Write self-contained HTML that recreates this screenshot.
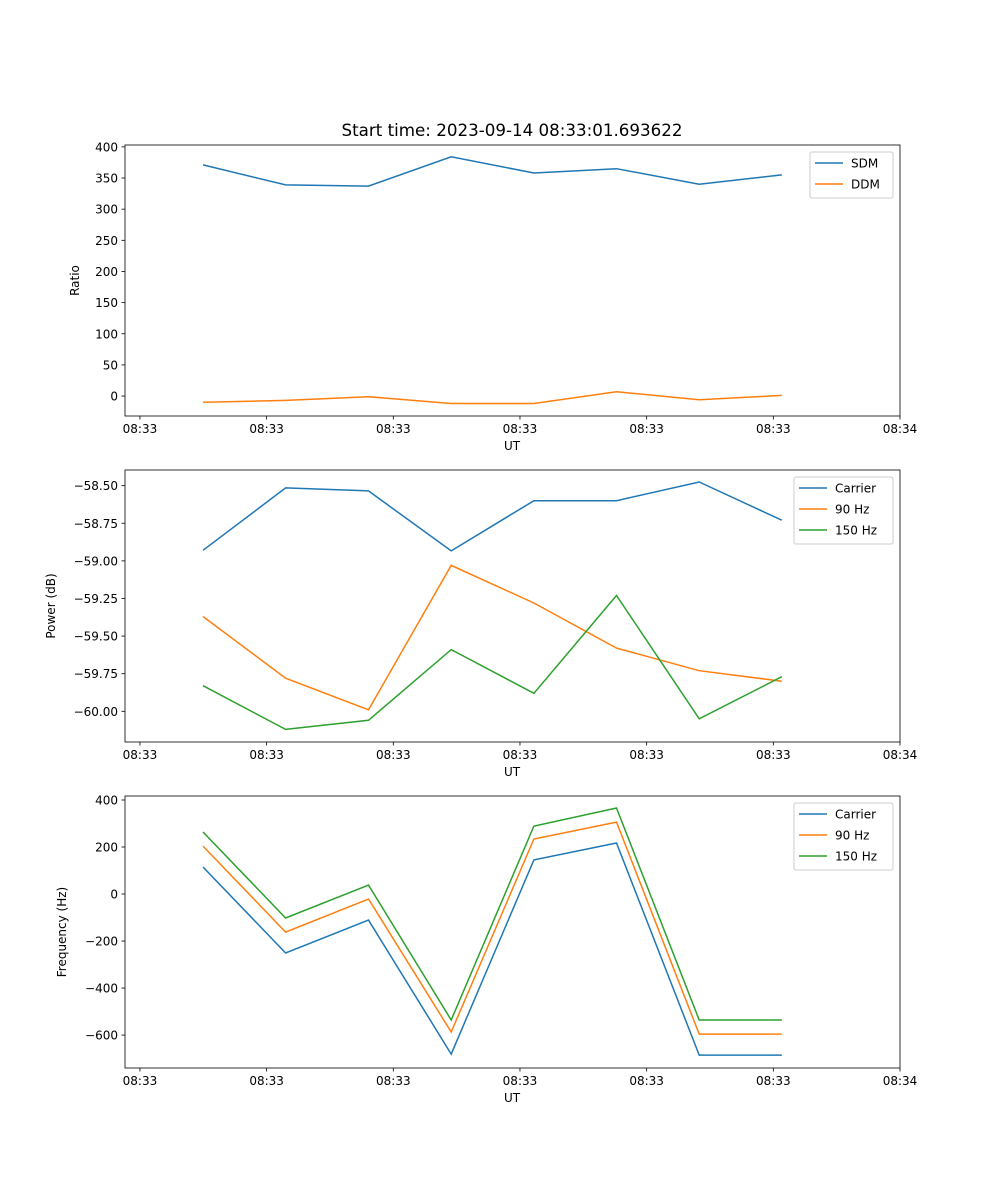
<!DOCTYPE html>
<html><head><meta charset="utf-8"><style>body{margin:0;background:#fff}svg{display:block;font-family:"DejaVu Sans","Liberation Sans",sans-serif}</style></head>
<body>
<svg id="fig" width="1000" height="1200"></svg>
<script>
const times=[4.98,11.5,18.04,24.57,31.1,37.62,44.15,50.67];
const xTickVals=[0,10,20,30,40,50,60];
const xTickLabels=["08:33","08:33","08:33","08:33","08:33","08:33","08:34"];
const sdm=[371,339,337,384,358,365,340,355];
const ddm=[-10,-7,-1,-12,-12,7,-6,1];
const pCarrier=[-58.93,-58.515,-58.535,-58.934,-58.60,-58.60,-58.476,-58.73];
const p90=[-59.37,-59.78,-59.99,-59.03,-59.28,-59.58,-59.73,-59.80];
const p150=[-59.83,-60.12,-60.06,-59.59,-59.88,-59.23,-60.05,-59.77];
const fCarrier=[115,-251,-111,-681,145,217,-685,-685];
const f90=[204,-162,-21,-587,234,306,-596,-596];
const f150=[264,-102,38,-536,289,366,-536,-536];
const ratioTicks=[0,50,100,150,200,250,300,350,400];
const powerTicks=[-60.0,-59.75,-59.5,-59.25,-59.0,-58.75,-58.5];
const freqTicks=[-600,-400,-200,0,200,400];
const C1="#1f77b4",C2="#ff7f0e",C3="#2ca02c";
const svg=document.getElementById('fig');
const NS="http://www.w3.org/2000/svg";
function mk(t,a,p){const e=document.createElementNS(NS,t);for(const k in a)e.setAttribute(k,a[k]);(p||svg).appendChild(e);return e;}
const X0=125,X1=900,tMin=-1.18,tMax=60;
function xs(t){return X0+(t-tMin)/(tMax-tMin)*(X1-X0);}
function panel(name,top,bot,yMin,yMax,ticks,fmt,ylabel,series,legend,title){
  const g=mk('g',{});
  
  
  const ys=v=>bot-(v-yMin)/(yMax-yMin)*(bot-top);
  series.forEach(s=>{
    const pts=s.vals.map((v,i)=>xs(times[i]).toFixed(1)+','+ys(v).toFixed(1)).join(' ');
    const l=mk('polyline',{points:pts,fill:'none',stroke:s.c,'stroke-width':1.5},g);
    
    
  });
  mk('rect',{x:X0,y:top,width:X1-X0,height:bot-top,fill:'none',stroke:'#000','stroke-width':0.8},g);
  xTickVals.forEach((t,i)=>{const x=xs(t);mk('line',{x1:x,x2:x,y1:bot,y2:bot+3.5,stroke:'#000','stroke-width':0.8},g);
    const tx=mk('text',{x:x,y:bot+17,'font-size':12,'text-anchor':'middle'},g);tx.textContent=xTickLabels[i];
    });
  ticks.forEach(v=>{const y=ys(v);mk('line',{x1:X0-3.5,x2:X0,y1:y,y2:y,stroke:'#000','stroke-width':0.8},g);
    const tx=mk('text',{x:X0-7,y:y+4.5,'font-size':12,'text-anchor':'end'},g);tx.textContent=fmt(v).replace('-','\u2212');
    });
  const xl=mk('text',{x:512,y:bot+34,'font-size':12,'text-anchor':'middle'},g);xl.textContent='UT';
  
  const yl=mk('text',{x:0,y:0,'font-size':12,'text-anchor':'middle',transform:`translate(${ylabel.x},${(top+bot)/2}) rotate(-90)`},g);yl.textContent=ylabel.t;
  
  if(title){const tt=mk('text',{x:512,y:top-9,'font-size':16.7,'text-anchor':'middle'},g);tt.textContent=title;
    }
  const lg=mk('g',{},g);
  
  
  mk('rect',{x:legend.x,y:top+7,width:X1-7-legend.x,height:series.length*21+4,fill:'#fff',stroke:'#ccc',rx:2},lg);
  series.forEach((s,i)=>{const y=top+18+i*21;
    mk('line',{x1:legend.x+5,x2:legend.x+33,y1:y,y2:y,stroke:s.c,'stroke-width':1.5},lg);
    const tx=mk('text',{x:legend.x+41,y:y+4.5,'font-size':12},lg);tx.textContent=s.label;
    });
}
panel('ratio',145,416,-32,403,ratioTicks,v=>String(v),{x:79,t:'Ratio'},
 [{id:'sdm',vals:sdm,c:C1,label:'SDM'},{id:'ddm',vals:ddm,c:C2,label:'DDM'}],{x:810},'Start time: 2023-09-14 08:33:01.693622');
panel('power',470,742,-60.204,-58.396,powerTicks,v=>v.toFixed(2),{x:55,t:'Power (dB)'},
 [{id:'carrier',vals:pCarrier,c:C1,label:'Carrier'},{id:'90hz',vals:p90,c:C2,label:'90 Hz'},{id:'150hz',vals:p150,c:C3,label:'150 Hz'}],{x:794});
panel('frequency',796,1068,-740,417,freqTicks,v=>String(v),{x:66,t:'Frequency (Hz)'},
 [{id:'carrier',vals:fCarrier,c:C1,label:'Carrier'},{id:'90hz',vals:f90,c:C2,label:'90 Hz'},{id:'150hz',vals:f150,c:C3,label:'150 Hz'}],{x:794});
</script>
</body></html>
